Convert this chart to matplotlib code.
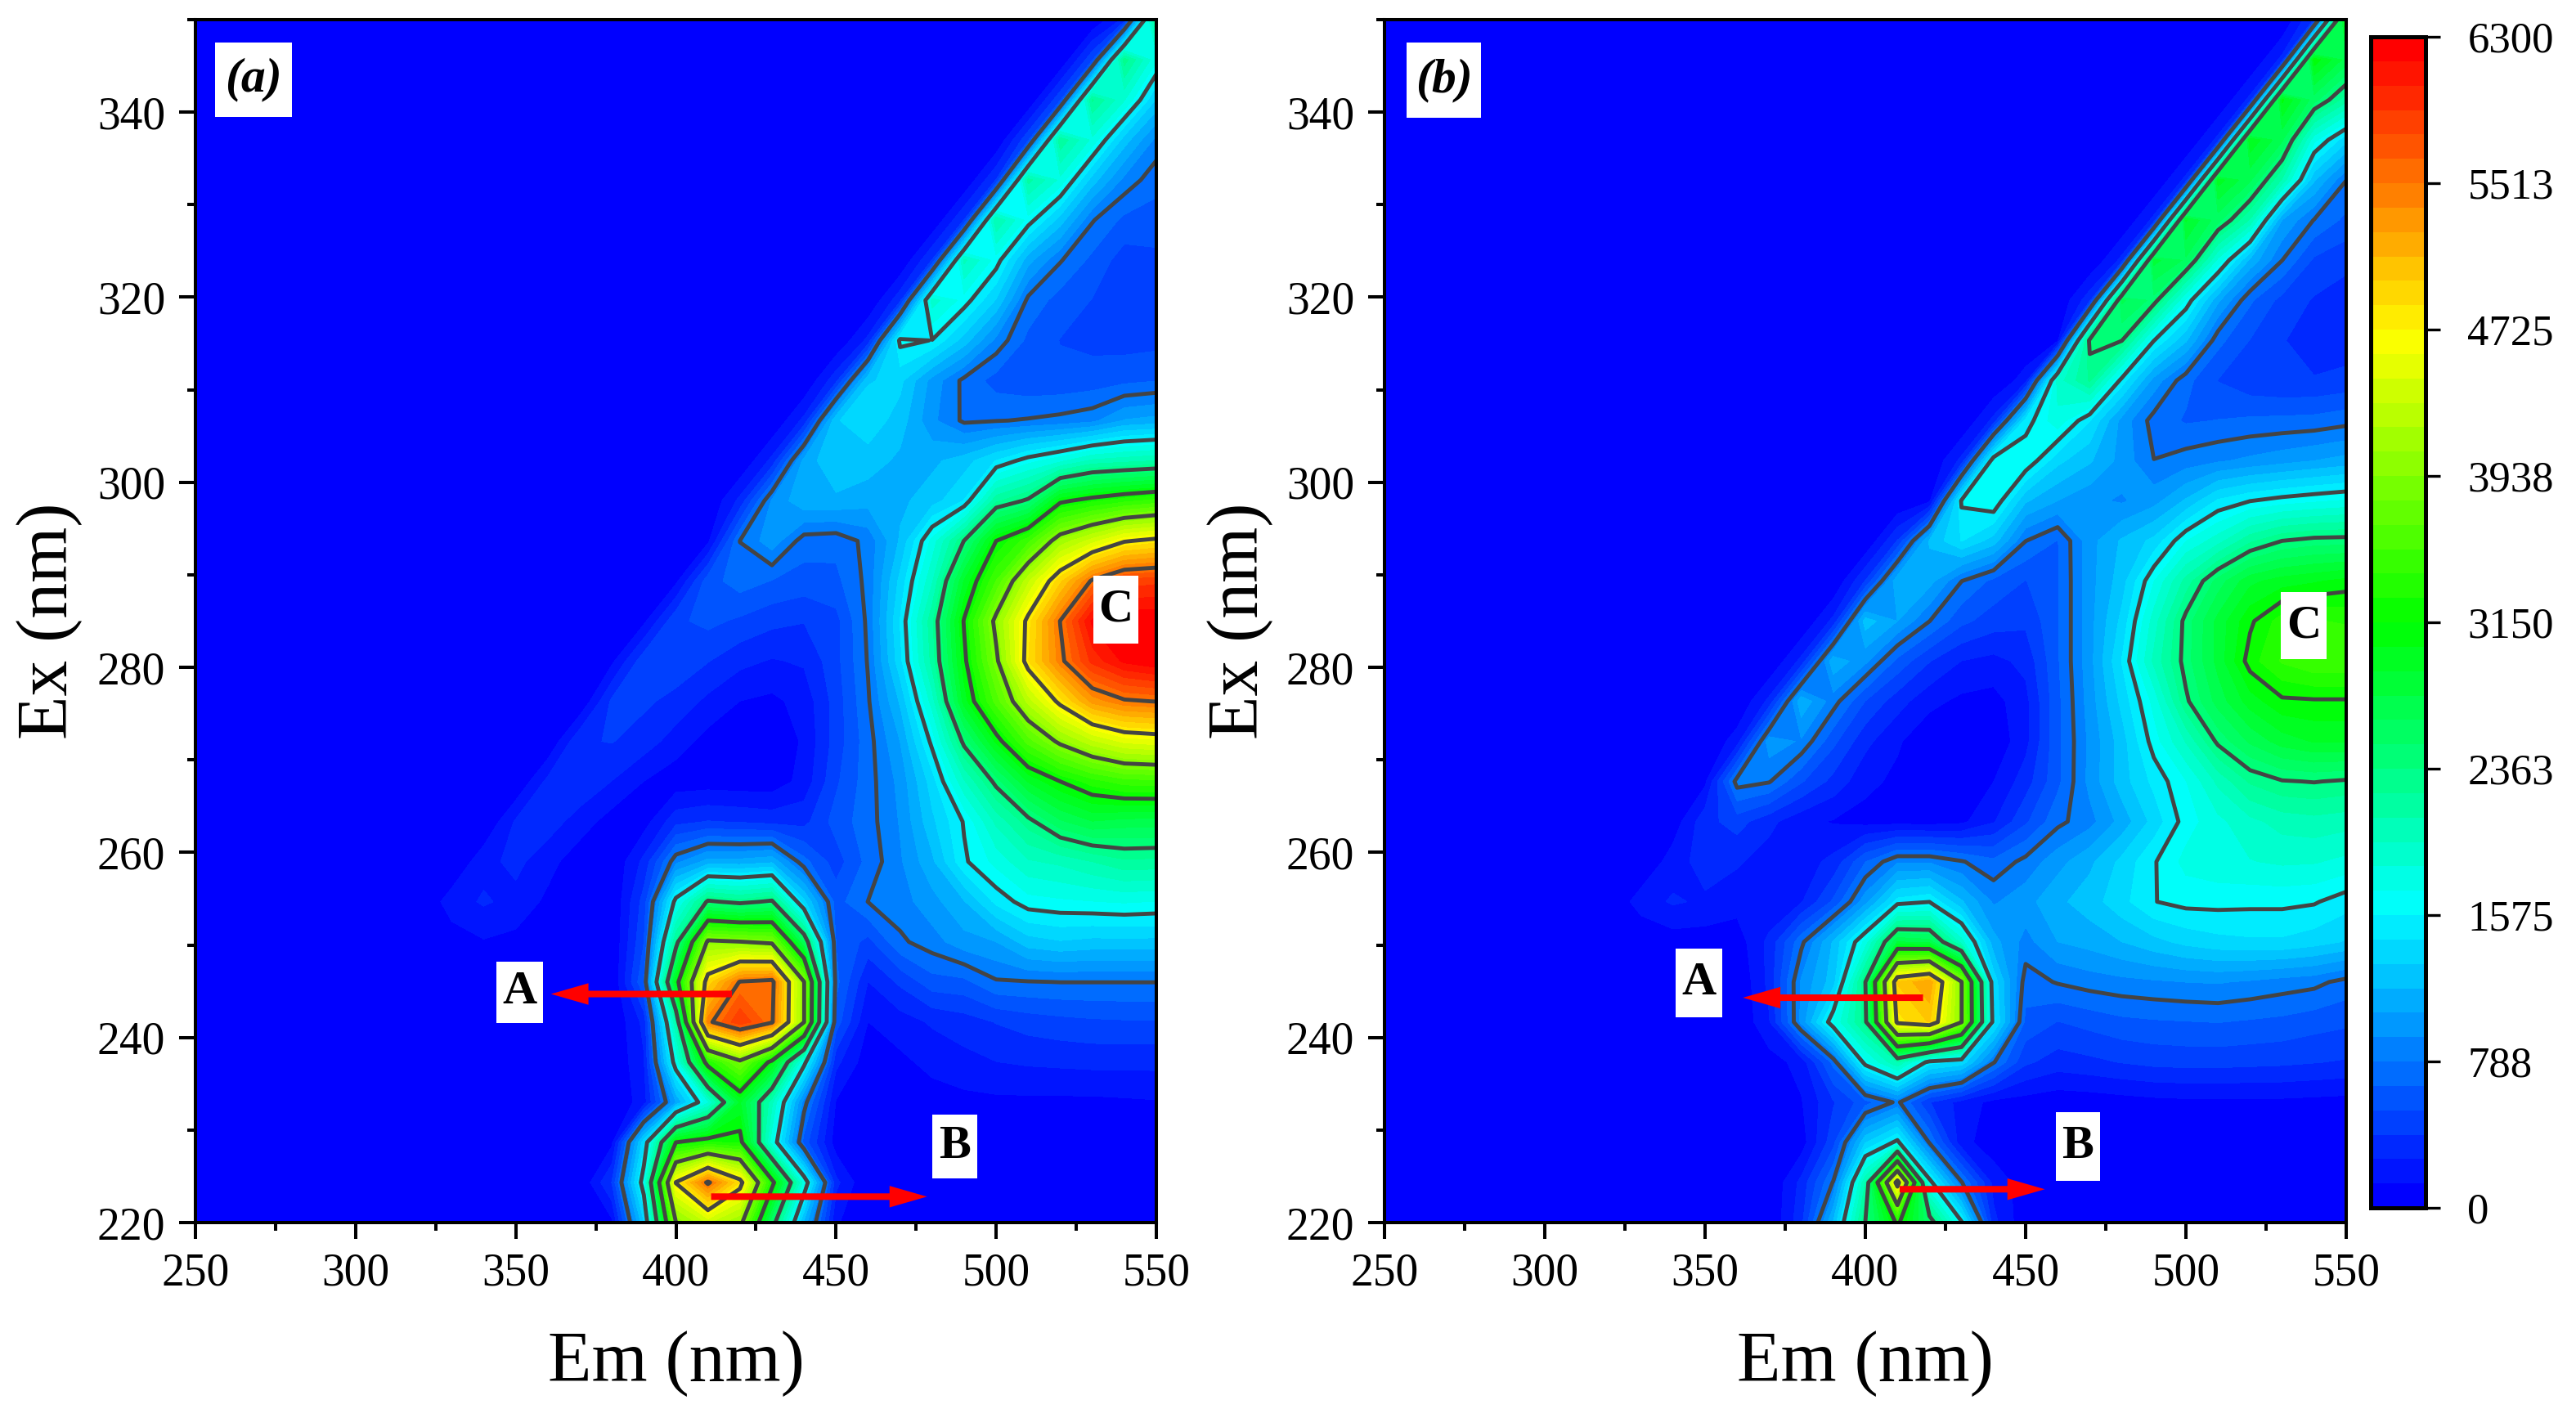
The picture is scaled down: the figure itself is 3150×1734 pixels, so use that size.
import numpy as np
import matplotlib
matplotlib.use("Agg")
import matplotlib.pyplot as plt
from matplotlib.colors import LinearSegmentedColormap, ListedColormap, BoundaryNorm
from matplotlib.patches import Rectangle
from matplotlib.ticker import MultipleLocator

plt.rcParams['font.family'] = ['Liberation Serif', 'DejaVu Serif']

em = [250, 320, 330, 340, 350, 360, 370, 380, 390, 400, 410, 420, 430, 440, 450, 460, 470, 480, 490, 500, 510, 520, 530, 540, 550]
ex = [220, 224.33, 228.67, 233, 237.33, 241.67, 246, 250.33, 254.67, 259, 263.33, 267.67, 272, 276.33, 280.67, 285,
      289.33, 293.67, 298, 302.33, 306.67, 311, 315.33, 319.67, 324, 328.33, 332.67, 337, 341.33, 345.67, 350]

intensity_a = [
    [0, 0, 0, 0, 0, 0, 0, 100, 1300, 3930, 4350, 4050, 2500, 1150, 150, 0, 0, 0, 0, 0, 0, 20, 40, 40, 20],
    [0, 0, 0, 0, 0, 0, 0, 400, 1700, 4740, 5560, 4850, 3250, 1750, 300, 0, 0, 0, 0, 0, 20, 40, 60, 60, 30],
    [0, 0, 0, 0, 0, 0, 0, 100, 1400, 3150, 3300, 3250, 1750, 600, 60, 20, 20, 20, 30, 40, 40, 40, 40, 40, 50],
    [0, 0, 0, 0, 0, 0, 0, 0, 200, 1050, 1800, 2900, 2000, 850, 120, 20, 40, 70, 90, 100, 100, 100, 100, 110, 120],
    [0, 0, 0, 0, 0, 0, 0, 0, 250, 1700, 3300, 3850, 3050, 1650, 300, 50, 100, 170, 220, 260, 280, 290, 300, 300, 300],
    [0, 0, 0, 0, 0, 0, 0, 0, 300, 2100, 5450, 5900, 5550, 3950, 600, 130, 200, 280, 330, 400, 450, 480, 500, 510, 510],
    [0, 0, 0, 0, 0, 0, 0, 0, 650, 3000, 4900, 5530, 5600, 3950, 700, 260, 420, 600, 620, 770, 780, 790, 790, 790, 790],
    [0, 0, 60, 120, 90, 40, 0, 0, 520, 2250, 4000, 3950, 3870, 2600, 650, 480, 760, 860, 1000, 1050, 1250, 1300, 1270, 1270, 1270],
    [0, 0, 200, 280, 220, 100, 20, 0, 450, 1650, 2400, 2300, 2400, 1350, 600, 790, 860, 1000, 1170, 1480, 1650, 1680, 1700, 1720, 1700],
    [0, 0, 0, 220, 300, 180, 50, 10, 300, 880, 1100, 1100, 1150, 700, 460, 700, 900, 1150, 1550, 1750, 1950, 2000, 2100, 2200, 2190],
    [0, 0, 0, 0, 280, 330, 200, 70, 70, 350, 400, 380, 350, 350, 580, 730, 930, 1280, 1590, 2000, 2300, 2600, 2750, 2700, 2690],
    [0, 0, 0, 0, 0, 300, 370, 260, 130, 50, 60, 50, 50, 180, 500, 730, 960, 1380, 1950, 2420, 2900, 3150, 3350, 3480, 3500],
    [0, 0, 0, 0, 0, 0, 380, 400, 330, 200, 80, 20, 30, 150, 450, 730, 1050, 1620, 2420, 3050, 3600, 4000, 4300, 4500, 4550],
    [0, 0, 0, 0, 0, 0, 0, 420, 420, 350, 230, 130, 100, 180, 450, 770, 1200, 1900, 2950, 3600, 4250, 4800, 5300, 5480, 5520],
    [0, 0, 0, 0, 0, 0, 0, 100, 480, 480, 400, 300, 250, 280, 480, 800, 1400, 2150, 3100, 3880, 4850, 5450, 5950, 6200, 6290],
    [0, 0, 0, 0, 0, 0, 0, 0, 100, 500, 560, 500, 430, 400, 480, 820, 1450, 2200, 3170, 4020, 4800, 5520, 6200, 6290, 6290],
    [0, 0, 0, 0, 0, 0, 0, 0, 0, 100, 600, 720, 650, 600, 620, 830, 1350, 1950, 2900, 3550, 4300, 4950, 5550, 5830, 5870],
    [0, 0, 0, 0, 0, 0, 0, 0, 0, 0, 100, 790, 1000, 720, 700, 830, 1200, 1750, 2370, 3150, 3500, 4100, 4400, 4700, 4800],
    [0, 0, 0, 0, 0, 0, 0, 0, 0, 0, 0, 300, 940, 1150, 1150, 1100, 1150, 1250, 1450, 2200, 2400, 3100, 3250, 3370, 3460],
    [0, 0, 0, 0, 0, 0, 0, 0, 0, 0, 0, 0, 300, 1100, 1300, 1250, 1150, 1150, 1250, 1450, 1650, 1800, 2000, 2050, 2100],
    [0, 0, 0, 0, 0, 0, 0, 0, 0, 0, 0, 0, 0, 300, 1300, 1400, 1250, 950, 760, 780, 800, 830, 880, 1060, 1100],
    [0, 0, 0, 0, 0, 0, 0, 0, 0, 0, 0, 0, 0, 0, 350, 1300, 1350, 1000, 750, 600, 560, 560, 580, 620, 650],
    [0, 0, 0, 0, 0, 0, 0, 0, 0, 0, 0, 0, 0, 0, 0, 300, 1620, 1570, 1250, 880, 620, 520, 490, 470, 480],
    [0, 0, 0, 0, 0, 0, 0, 0, 0, 0, 0, 0, 0, 0, 0, 0, 350, 1900, 1650, 1300, 750, 600, 520, 440, 450],
    [0, 0, 0, 0, 0, 0, 0, 0, 0, 0, 0, 0, 0, 0, 0, 0, 0, 400, 2000, 1650, 1100, 800, 620, 460, 490],
    [0, 0, 0, 0, 0, 0, 0, 0, 0, 0, 0, 0, 0, 0, 0, 0, 0, 0, 400, 2100, 1650, 1250, 800, 620, 600],
    [0, 0, 0, 0, 0, 0, 0, 0, 0, 0, 0, 0, 0, 0, 0, 0, 0, 0, 0, 400, 2150, 1800, 1250, 880, 700],
    [0, 0, 0, 0, 0, 0, 0, 0, 0, 0, 0, 0, 0, 0, 0, 0, 0, 0, 0, 0, 500, 2200, 1800, 1250, 880],
    [0, 0, 0, 0, 0, 0, 0, 0, 0, 0, 0, 0, 0, 0, 0, 0, 0, 0, 0, 0, 0, 500, 2250, 1850, 1300],
    [0, 0, 0, 0, 0, 0, 0, 0, 0, 0, 0, 0, 0, 0, 0, 0, 0, 0, 0, 0, 0, 0, 500, 2300, 1730],
    [0, 0, 0, 0, 0, 0, 0, 0, 0, 0, 0, 0, 0, 0, 0, 0, 0, 0, 0, 0, 0, 0, 0, 300, 2300],
]

intensity_b = [
    [0, 0, 0, 0, 0, 0, 0, 350, 1200, 2370, 3200, 2500, 1600, 300, 30, 0, 0, 0, 0, 0, 0, 0, 0, 0, 0],
    [0, 0, 0, 0, 0, 0, 0, 300, 800, 2100, 4900, 1650, 800, 220, 60, 0, 0, 0, 0, 0, 0, 0, 0, 0, 0],
    [0, 0, 0, 0, 0, 0, 0, 60, 480, 1300, 1620, 770, 180, 50, 10, 0, 0, 0, 0, 0, 0, 0, 0, 0, 0],
    [0, 0, 0, 0, 0, 0, 0, 120, 380, 600, 820, 400, 210, 90, 70, 40, 50, 70, 90, 100, 100, 100, 100, 90, 80],
    [0, 0, 0, 0, 0, 0, 70, 180, 700, 1650, 2100, 1500, 1400, 800, 420, 330, 360, 400, 430, 440, 440, 430, 420, 400, 380],
    [0, 0, 0, 0, 0, 0, 250, 950, 1700, 2300, 4800, 5000, 3950, 1480, 620, 520, 570, 620, 640, 650, 660, 640, 620, 580, 550],
    [0, 0, 0, 0, 0, 0, 300, 940, 1250, 2360, 5000, 5250, 3950, 1400, 720, 800, 850, 880, 900, 920, 930, 900, 860, 830, 740],
    [0, 0, 0, 60, 60, 60, 300, 750, 1200, 1750, 2762, 2700, 1900, 1100, 870, 1050, 1100, 1180, 1270, 1350, 1400, 1420, 1420, 1370, 1300],
    [0, 0, 200, 280, 240, 180, 150, 250, 550, 1000, 1500, 1570, 1200, 900, 1000, 1150, 1250, 1400, 1570, 1620, 1620, 1610, 1610, 1590, 1500],
    [0, 0, 0, 200, 320, 280, 200, 200, 300, 650, 900, 900, 800, 690, 830, 1000, 1150, 1350, 1560, 1750, 1800, 1830, 1860, 1850, 1800],
    [0, 0, 0, 50, 350, 450, 300, 170, 120, 80, 80, 70, 100, 250, 500, 750, 870, 1100, 1360, 1640, 1800, 1930, 2020, 2050, 2020],
    [0, 0, 0, 0, 100, 850, 800, 540, 350, 170, 100, 60, 60, 130, 330, 620, 960, 1250, 1480, 1700, 2000, 2250, 2350, 2370, 2340],
    [0, 0, 0, 0, 0, 200, 1000, 900, 560, 300, 150, 30, 10, 30, 220, 620, 950, 1250, 1640, 1980, 2400, 2650, 2820, 2900, 2900],
    [0, 0, 0, 0, 0, 0, 300, 1150, 850, 520, 320, 170, 100, 80, 220, 620, 980, 1350, 1750, 2330, 2680, 2950, 3120, 3130, 3130],
    [0, 0, 0, 0, 0, 0, 0, 300, 1150, 950, 620, 400, 260, 220, 300, 640, 1000, 1450, 2000, 2430, 2800, 3220, 3430, 3530, 3530],
    [0, 0, 0, 0, 0, 0, 0, 0, 300, 1250, 1050, 790, 560, 460, 420, 640, 1000, 1350, 1900, 2420, 2800, 3120, 3350, 3420, 3400],
    [0, 0, 0, 0, 0, 0, 0, 0, 0, 400, 1150, 1100, 790, 620, 520, 640, 1000, 1250, 1700, 2150, 2550, 2850, 2950, 3000, 3060],
    [0, 0, 0, 0, 0, 0, 0, 0, 0, 0, 400, 1200, 1450, 1250, 790, 650, 1000, 1200, 1350, 1700, 1912, 2200, 2363, 2420, 2430],
    [0, 0, 0, 0, 0, 0, 0, 0, 0, 0, 0, 100, 1600, 1700, 1200, 1050, 950, 900, 1000, 1200, 1463, 1570, 1634, 1680, 1720],
    [0, 0, 0, 0, 0, 0, 0, 0, 0, 0, 0, 0, 300, 1700, 1700, 1350, 1200, 1000, 790, 850, 900, 950, 1000, 1050, 1100],
    [0, 0, 0, 0, 0, 0, 0, 0, 0, 0, 0, 0, 0, 300, 1500, 1800, 1450, 1000, 730, 640, 660, 680, 690, 700, 740],
    [0, 0, 0, 0, 0, 0, 0, 0, 0, 0, 0, 0, 0, 0, 200, 1900, 2250, 1520, 1000, 700, 520, 430, 400, 400, 430],
    [0, 0, 0, 0, 0, 0, 0, 0, 0, 0, 0, 0, 0, 0, 0, 100, 2420, 2370, 1580, 1200, 700, 520, 400, 350, 330],
    [0, 0, 0, 0, 0, 0, 0, 0, 0, 0, 0, 0, 0, 0, 0, 0, 350, 2650, 2450, 1680, 1080, 680, 480, 380, 330],
    [0, 0, 0, 0, 0, 0, 0, 0, 0, 0, 0, 0, 0, 0, 0, 0, 0, 300, 2800, 2600, 1800, 1150, 790, 500, 430],
    [0, 0, 0, 0, 0, 0, 0, 0, 0, 0, 0, 0, 0, 0, 0, 0, 0, 0, 300, 2900, 2550, 2080, 1050, 780, 620],
    [0, 0, 0, 0, 0, 0, 0, 0, 0, 0, 0, 0, 0, 0, 0, 0, 0, 0, 0, 300, 2950, 2650, 2080, 1200, 790],
    [0, 0, 0, 0, 0, 0, 0, 0, 0, 0, 0, 0, 0, 0, 0, 0, 0, 0, 0, 0, 300, 3000, 2650, 1750, 1350],
    [0, 0, 0, 0, 0, 0, 0, 0, 0, 0, 0, 0, 0, 0, 0, 0, 0, 0, 0, 0, 0, 300, 3050, 2550, 2150],
    [0, 0, 0, 0, 0, 0, 0, 0, 0, 0, 0, 0, 0, 0, 0, 0, 0, 0, 0, 0, 0, 0, 300, 3100, 2700],
    [0, 0, 0, 0, 0, 0, 0, 0, 0, 0, 0, 0, 0, 0, 0, 0, 0, 0, 0, 0, 0, 0, 0, 400, 3100],
]

cbar_ticks = [0, 787.5, 1575, 2362.5, 3150, 3937.5, 4725, 5512.5, 6300]
cbar_labels = ['0', '788', '1575', '2363', '3150', '3938', '4725', '5513', '6300']
x_ticks = [250, 300, 350, 400, 450, 500, 550]
y_ticks = [220, 240, 260, 280, 300, 320, 340]

W, H = 3150, 1734
fig = plt.figure(figsize=(W / 100, H / 100), dpi=100, facecolor='white')


def rect_px(left, top, right, bottom):
    return [left / W, 1 - bottom / H, (right - left) / W, (bottom - top) / H]


base = LinearSegmentedColormap.from_list(
    'rb', [(0, 0, 1), (0, 1, 1), (0, 1, 0), (1, 1, 0), (1, 0, 0)])
levels = np.linspace(0, 6300, 49)
cmap = ListedColormap([base(v) for v in np.linspace(0, 1, 48)])
norm = BoundaryNorm(levels, 48)
line_levels = cbar_ticks[1:-1]

SP = 2.9


def panel(rect, z, boxes, arrows, lab_x):
    ax = fig.add_axes(rect)
    cf = ax.contourf(em, ex, np.array(z, float), levels=levels, cmap=cmap, norm=norm)
    ax.contour(em, ex, np.array(z, float), levels=line_levels, colors='#444444', linewidths=3.5)
    ax.set_xlim(250, 550)
    ax.set_ylim(220, 350)
    ax.set_xticks(x_ticks)
    ax.set_yticks(y_ticks)
    ax.xaxis.set_minor_locator(MultipleLocator(25))
    ax.yaxis.set_minor_locator(MultipleLocator(10))
    ax.tick_params(which='major', length=14.5, width=SP, labelsize=40, pad=12)
    ax.tick_params(which='minor', length=7, width=SP)
    for s in ax.spines.values():
        s.set_linewidth(SP)
    ax.set_xlabel('Em (nm)', fontsize=63, va='center')
    ax.set_ylabel('Ex (nm)', fontsize=63, va='center')
    ax.xaxis.set_label_coords(0.5, -0.117)
    ax.yaxis.set_label_coords(lab_x, 0.5)
    for txt, x0, x1, y0, y1, kw in boxes:
        ax.add_patch(Rectangle((x0, y0), x1 - x0, y1 - y0, fc='white', ec='none', zorder=5))
        ax.text((x0 + x1) / 2, (y0 + y1) / 2, txt, ha='center', va='center', zorder=6, **kw)
    for tail, tip in arrows:
        ax.annotate('', xy=tip, xytext=tail, zorder=7,
                    arrowprops=dict(facecolor='red', edgecolor='red', linewidth=0,
                                    width=5.8, headwidth=19, headlength=33, shrink=0))
    return cf


bold = dict(fontsize=42, fontweight='bold')
ital = dict(fontsize=43, fontweight='bold', style='italic')

cf = panel(rect_px(239, 24, 1414, 1495), intensity_a,
           [('(a)', 256, 280, 339.5, 347.5, ital),
            ('A', 344, 358.4, 241.6, 248.2, bold),
            ('B', 480, 494, 224.8, 231.7, bold),
            ('C', 530.3, 544.5, 282.6, 289.9, bold)],
           [((417.5, 244.7), (361, 244.7)), ((411, 222.8), (478.4, 222.8))], -0.152)

panel(rect_px(1693, 24, 2869, 1495), intensity_b,
      [('(b)', 257, 280, 339.4, 347.5, ital),
       ('A', 340.7, 355.3, 242.2, 249.6, bold),
       ('B', 459.4, 473.2, 224.5, 231.9, bold),
       ('C', 529.6, 543.9, 280.9, 288.1, bold)],
      [((418, 244.3), (361.8, 244.3)), ((410.7, 223.6), (456, 223.6))], -0.15)

cax = fig.add_axes(rect_px(2899, 45, 2966, 1477))
cb = fig.colorbar(cf, cax=cax, ticks=cbar_ticks, spacing='proportional')
cb.ax.set_yticklabels(cbar_labels)
cb.ax.minorticks_off()
cb.ax.tick_params(length=13, width=2.4, labelsize=38, pad=24, right=True, left=False)
cb.outline.set_linewidth(3.6)
cb.outline.set_edgecolor('black')

fig.savefig('out.png', dpi=100, facecolor='white')
